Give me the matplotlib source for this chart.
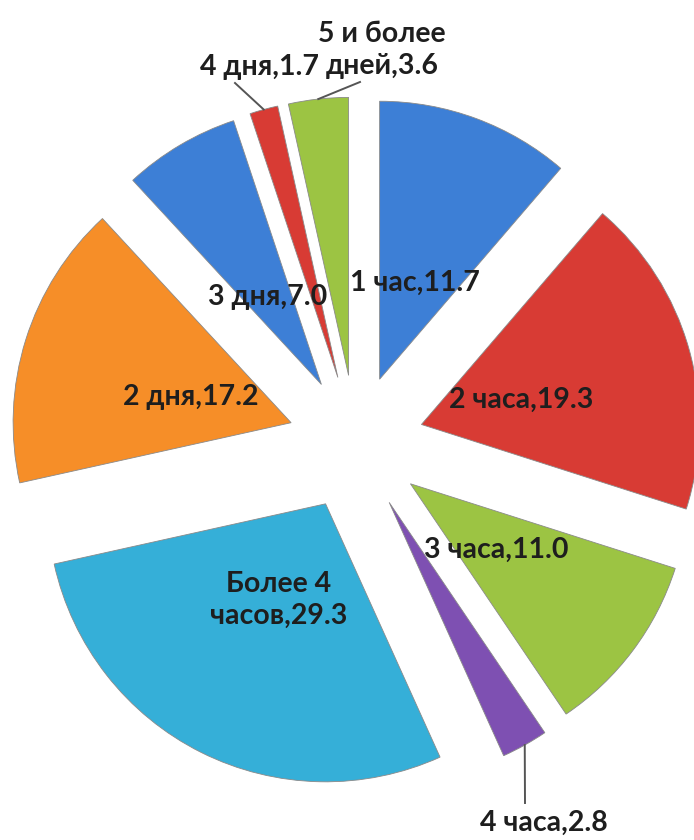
import matplotlib
matplotlib.use('Agg')
import matplotlib.pyplot as plt
import numpy as np

plt.rcParams['font.family'] = ['Lato', 'DejaVu Sans']

# time to resolve a request
categories = ['1 час', '2 часа', '3 часа', '4 часа', 'Более 4\nчасов',
              '2 дня', '3 дня', '4 дня', '5 и более\nдней']
values = [11.7, 19.3, 11.0, 2.8, 29.3, 17.2, 7.0, 1.7, 3.6]
colors = ['#3d7fd6', '#d83b34', '#9cc443', '#7e50b2', '#35afd8',
          '#f68e28', '#3d7fd6', '#d83b34', '#9cc443']

# label centres (pixels, origin bottom-left)
label_pos = [(415, 557), (521, 440), (496, 290), (544, 17), (279, 240),
             (191, 443), (268, 543), (260, 773), (382, 790)]
# outside labels get a leader line ending here
leader_end = {3: (525, 37), 7: (235, 757), 8: (360, 758)}

fig = plt.figure(figsize=(6.94, 8.4), dpi=100)
ax = fig.add_axes([0, 0, 1, 1])

radius = 278
wedges, _ = ax.pie(values, colors=colors, startangle=90, counterclock=False,
                   radius=radius, center=(356, 397),
                   explode=[68] * len(values),
                   wedgeprops=dict(edgecolor='#8a8a8a', linewidth=0.6))

for i, w in enumerate(wedges):
    text = f'{categories[i]},{values[i]:.1f}'
    x, y = label_pos[i]
    ax.text(x, y, text, ha='center', va='center', fontsize=20.5,
            fontweight='bold', color='#1e1e1e', linespacing=1.3)
    if i in leader_end:
        mid = np.deg2rad((w.theta1 + w.theta2) / 2)
        cx, cy = w.center
        px, py = cx + w.r * np.cos(mid), cy + w.r * np.sin(mid)
        ex, ey = leader_end[i]
        ax.plot([px, ex], [py, ey], color='#555555', lw=1.4)

ax.set_xlim(0, 694)
ax.set_ylim(0, 840)
ax.set_aspect('equal')
ax.axis('off')

fig.savefig('out.png', dpi=100)
